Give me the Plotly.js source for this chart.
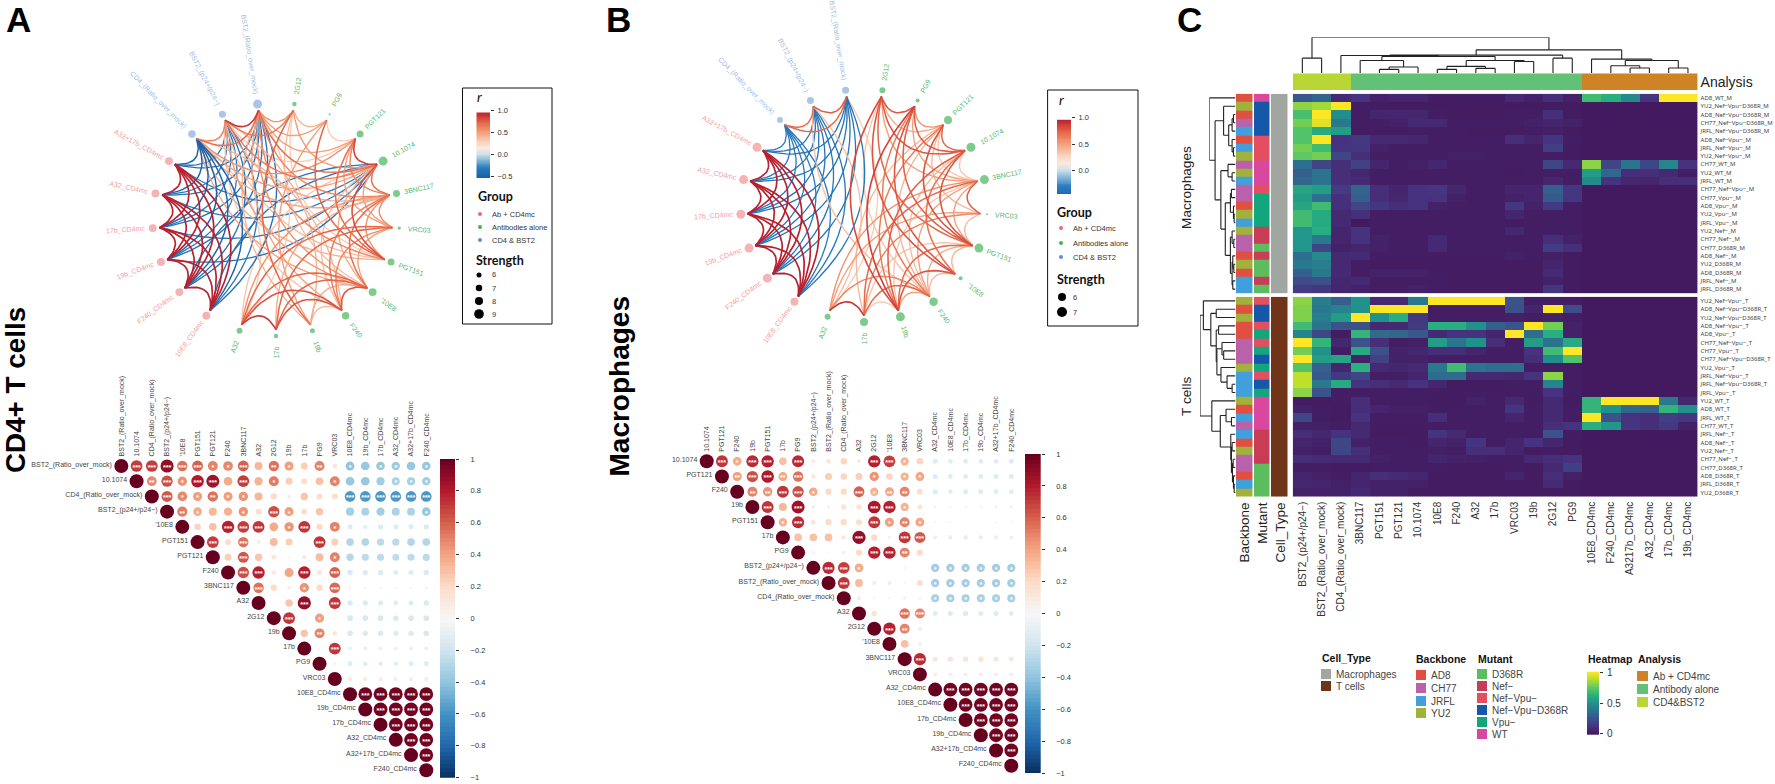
<!DOCTYPE html>
<html><head><meta charset="utf-8">
<script src="https://cdn.plot.ly/plotly-3.0.1.min.js"></script>
<style>html,body{margin:0;padding:0;background:#fff}#g{width:1775px;height:784px}</style>
</head><body><div id="g"></div>
<script>
// ---------- DATA ----------
const netNodes=["2G12","PG9","PGT121","10.1074","3BNC117","VRC03","PGT151","'10E8","F240","19b","17b","A32","10E8_CD4mc","F240_CD4mc","19b_CD4mc","17b_CD4mc","A32_CD4mc","A32+17b_CD4mc","CD4_(Ratio_over_mock)","BST2_(p24+/p24−)","BST2_(Ratio_over_mock)"];
const netGroups=[1,1,1,1,1,1,1,1,1,1,1,1,0,0,0,0,0,0,2,2,2];
const strengthA=[5.7,4.1,7.3,8.6,7.3,5,7.3,7.9,7.6,6,5.7,6.6,7.9,7.9,7.9,7.9,7.9,7.9,7.6,7.3,8.6];
const strengthB=[5,4,6,6.5,6.5,3,6.5,4,6.25,6.5,6,5,6,6.5,6.5,6.5,6.5,6.5,5,5.5,5.5];

const corrLabelsA=["BST2_(Ratio_over_mock)","10.1074","CD4_(Ratio_over_mock)","BST2_(p24+/p24−)","'10E8","PGT151","PGT121","F240","3BNC117","A32","2G12","19b","17b","PG9","VRC03","10E8_CD4mc","19b_CD4mc","17b_CD4mc","A32_CD4mc","A32+17b_CD4mc","F240_CD4mc"];
const corrRowsA=[
[.7,.7,.88,.55,.6,.5,.48,.6,.33,.55,.42,.25,.5,.12,-.4,-.38,-.38,-.36,-.38,-.38],
[.48,.65,.45,.8,.85,.38,.7,.35,.52,.25,.18,.3,.5,-.38,-.38,-.35,-.32,-.34,-.35],
[.62,.48,.42,.55,.42,.45,.33,.2,.08,.28,.18,.18,-.58,-.58,-.58,-.58,-.58,-.58],
[.52,.38,.33,.36,.45,.18,.65,.42,.18,.28,.02,-.34,-.32,-.35,-.32,-.32,-.38],
[.22,.3,.78,.7,.72,.38,.45,.72,.2,.5,-.13,-.1,-.13,-.13,-.13,-.15],
[.7,.18,.55,.08,.32,.25,.01,.72,.25,-.3,-.3,-.27,-.27,-.3,-.3],
[.25,.62,.28,.12,.03,.1,.32,.5,-.28,-.26,-.26,-.25,-.26,-.27],
[.65,.78,.1,.4,.78,.13,.6,-.15,-.14,-.14,-.12,-.13,-.15],
[.55,.2,.07,.45,.2,.58,-.03,-.02,-.03,-.03,-.02,-.04],
[.01,.28,.88,.01,.72,-.15,-.14,-.13,-.12,-.13,-.15],
[.72,.03,.42,.02,-.16,-.16,-.16,-.15,-.16,-.17],
[.28,.5,.12,-.16,-.15,-.15,-.13,-.15,-.17],
[-.02,.72,-.08,-.08,-.08,-.07,-.08,-.08],
[-.04,-.12,-.11,-.11,-.11,-.12,-.12],
[.09,.09,.09,.08,.09,.08],
[.97,.97,.97,.97,.97],[.97,.97,.97,.97],[.97,.97,.97],[.97,.97],[.97],[]];
const corrStarsA=["33333113021020101101","2313303010001000111","311211000000333333","21001031000000001","0033301301000000","303000030000000","03000001000000","3300303000000","300103000000","00303000000","3010000000","020000000","03000000","0000000","000000","33333","3333","333","33","3",""];

const corrLabelsB=["10.1074","PGT121","F240","19b","PGT151","17b","PG9","BST2_(p24+/p24−)","BST2_(Ratio_over_mock)","CD4_(Ratio_over_mock)","A32","2G12","'10E8","3BNC117","VRC03","A32_CD4mc","10E8_CD4mc","17b_CD4mc","19b_CD4mc","A32+17b_CD4mc","F240_CD4mc"];
const corrRowsB=[
[.72,.38,.75,.78,.3,.75,.08,.12,.22,.08,.78,.7,.35,.22,-.13,-.12,-.12,-.12,-.12,-.13],
[.42,.65,.8,.4,.55,.1,.25,.22,.25,.45,.22,.35,.4,-.13,-.12,-.12,-.12,-.13,-.13],
[.5,.45,.72,.65,.38,.2,.2,.6,.35,.4,.5,.18,-.13,-.11,-.13,-.13,-.12,-.12],
[.72,.33,.85,.08,.06,.15,.15,.82,.78,.35,.13,-.04,-.03,-.03,-.03,-.04,-.05],
[.36,.75,.12,.2,.2,.18,.72,.42,.5,.4,-.02,-.02,-.01,-.01,-.02,-.02],
[.3,.3,.3,.1,.88,.2,.05,.72,.62,-.08,-.09,-.1,-.1,-.09,-.08],
[.05,.02,.07,.2,.78,.78,.5,.2,-.01,-.01,-.01,-.01,-.01,-.01],
[.75,.7,.38,.01,.01,.03,.01,-.35,-.35,-.35,-.35,-.35,-.35],
[.72,.32,-.08,-.08,.02,.18,-.35,-.35,-.35,-.35,-.35,-.35],
[.08,-.03,.03,-.05,-.04,-.33,-.33,-.33,-.33,-.33,-.33],
[.15,0,.55,.5,-.12,-.13,-.14,-.13,-.13,-.12],
[.78,.5,.08,-.01,-.01,-.01,-.01,-.01,-.01],
[.3,-.07,-.01,-.01,-.01,-.01,-.01,-.01],
[.75,.13,.14,.14,.15,.13,.12],
[.08,.08,.08,.08,.08,.08],
[.97,.97,.97,.97,.97],[.97,.97,.97,.97],[.97,.97,.97],[.97,.97],[.97],[]];
const corrStarsB=["31330300003310000000","2332300001011000000","223310031220000000","30300003310000000","1300003121000000","000030033000000","00003320000000","3310000111111","300000111111","00000111111","0033000000","320000000","00000000","3000000","000000","33333","3333","333","33","3",""];

const heatCols=["BST2_(p24+/p24−)","BST2_(Ratio_over_mock)","CD4_(Ratio_over_mock)","3BNC117","PGT151","PGT121","10.1074","10E8","F240","A32","17b","VRC03","19b","2G12","PG9","10E8_CD4mc","F240_CD4mc","A3217b_CD4mc","A32_CD4mc","17b_CD4mc","19b_CD4mc"];
const analysisCols=[2,2,2,1,1,1,1,1,1,1,1,1,1,1,1,0,0,0,0,0,0];
const Z6=[.01,.01,.01,.01,.01,.01];
const rowsM=["AD8_WT_M","YU2_Nef−Vpu−D368R_M","AD8_Nef−Vpu−D368R_M","CH77_Nef−Vpu−D368R_M","JRFL_Nef−Vpu−D368R_M","AD8_Nef−Vpu−_M","JRFL_Nef−Vpu−_M","YU2_Nef−Vpu−_M","CH77_WT_M","YU2_WT_M","JRFL_WT_M","CH77_Nef−Vpu−_M","CH77_Vpu−_M","AD8_Vpu−_M","YU2_Vpu−_M","JRFL_Vpu−_M","YU2_Nef−_M","CH77_Nef−_M","CH77_D368R_M","AD8_Nef−_M","YU2_D368R_M","AD8_D368R_M","JRFL_Nef−_M","JRFL_D368R_M"];
const heatM=[
[.27,.33,.09,.12,.05,.06,.06,.03,.03,.03,.03,.08,.05,.1,.05,.68,.62,.47,.13,1,1],
[.82,.85,1,.03,.02,.02,.02,.02,.02,.02,.02,.02,.02,.02,.02,...Z6],
[.7,1,.48,.03,.06,.06,.07,.03,.02,.02,.02,.03,.03,.1,.02,...Z6],
[.78,.95,.4,.03,.03,.05,.08,.08,.03,.03,.03,.03,.05,.06,.05,...Z6],
[.72,.6,.55,.02,.02,.02,.03,.03,.03,.02,.02,.02,.03,.04,.02,...Z6],
[.72,1,.12,.15,.08,.08,.07,.03,.03,.03,.03,.1,.06,.13,.03,...Z6],
[.78,.68,.13,.14,.05,.03,.03,.03,.03,.03,.03,.03,.03,.17,.02,...Z6],
[.75,.78,.2,.1,.03,.03,.03,.03,.04,.04,.03,.03,.03,.03,.02,...Z6],
[.36,.2,.1,.18,.06,.03,.04,.07,.03,.03,.03,.03,.03,.2,.08,.82,.2,.38,.2,.45,.12],
[.3,.38,.1,.07,.03,.03,.03,.03,.03,.03,.03,.02,.03,.03,.03,.55,.33,.1,.1,.08,.03],
[.33,.38,.1,.09,.03,.03,.03,.03,.03,.03,.03,.03,.03,.07,.03,.47,.12,.07,.06,.1,.1],
[.58,.55,.16,.32,.1,.06,.12,.14,.07,.03,.03,.06,.06,.3,.14,...Z6],
[.55,.36,.11,.3,.1,.07,.12,.12,.05,.03,.03,.05,.06,.28,.14,...Z6],
[.58,.68,.11,.2,.14,.1,.12,.05,.03,.03,.03,.14,.05,.15,.03,...Z6],
[.68,.6,.08,.1,.03,.03,.03,.03,.03,.03,.03,.06,.03,.03,.03,...Z6],
[.68,.6,.08,.01,.03,.03,.03,.03,.03,.03,.03,.02,.03,.03,.03,...Z6],
[.52,.62,.06,.12,.03,.03,.03,.03,.03,.03,.03,.07,.03,.03,.03,...Z6],
[.52,.4,.06,.12,.05,.03,.03,.08,.03,.03,.03,.03,.03,.1,.05,...Z6],
[.52,.2,.05,.06,.05,.03,.03,.08,.03,.03,.03,.03,.03,.16,.1,...Z6],
[.36,.47,.08,.08,.03,.03,.03,.03,.03,.03,.03,.05,.03,.04,.02,...Z6],
[.4,.42,.08,.03,.02,.02,.02,.02,.02,.02,.02,.02,.02,.06,.02,...Z6],
[.3,.4,.08,.03,.05,.05,.05,.03,.02,.02,.02,.02,.02,.08,.02,...Z6],
[.22,.24,.07,.08,.03,.03,.03,.03,.02,.02,.02,.02,.02,.05,.02,...Z6],
[.16,.14,.06,.05,.03,.03,.05,.03,.02,.02,.02,.02,.02,.14,.02,...Z6]];
const rowsT=["YU2_Nef−Vpu−_T","AD8_Nef−Vpu−D368R_T","YU2_Nef−Vpu−D368R_T","AD8_Nef−Vpu−_T","AD8_Vpu−_T","CH77_Nef−Vpu−_T","CH77_Vpu−_T","CH77_Nef−Vpu−D368R_T","YU2_Vpu−_T","JRFL_Nef−Vpu−_T","JRFL_Nef−Vpu−D368R_T","JRFL_Vpu−_T","YU2_WT_T","AD8_WT_T","JRFL_WT_T","CH77_WT_T","JRFL_Nef−_T","AD8_Nef−_T","YU2_Nef−_T","CH77_Nef−_T","CH77_D368R_T","AD8_D368R_T","JRFL_D368R_T","YU2_D368R_T"];
const heatT=[
[.82,.42,.3,.5,.08,.08,.4,1,1,1,1,.25,.03,.03,.03,...Z6],
[.8,.4,.44,.5,1,1,1,.03,.03,.03,.03,.24,.06,1,.23,...Z6],
[.8,.42,.55,1,.5,.62,.14,.03,.03,.03,.03,.04,.03,.05,.03,...Z6],
[.68,.38,.25,.24,.08,.08,.15,.62,.62,.5,.3,.26,1,.78,.05,...Z6],
[.45,.2,.02,.65,.34,.33,.27,.08,.12,.12,.06,1,.35,.62,.05,...Z6],
[1,.65,.07,.25,.1,.03,.04,.55,.38,.5,.1,.03,.55,.38,.6,...Z6],
[.78,.5,.02,.6,.24,.05,.07,.1,.1,.06,.03,.03,.12,.68,1,...Z6],
[1,.55,.58,.05,.18,.05,.05,.03,.03,.03,.03,.03,.1,.48,.72,...Z6],
[.72,.3,.06,.63,.08,.07,.08,.4,.68,.38,.35,.36,.03,.03,.03,...Z6],
[.9,.28,.15,.2,.03,.03,.06,.35,.35,.08,.08,.07,.12,.82,.03,...Z6],
[.9,.4,.6,.12,.1,.08,.12,.07,.02,.02,.02,.03,.03,.45,.03,...Z6],
[.82,.25,.03,.03,.03,.03,.03,.03,.03,.03,.03,.03,.03,.12,.03,...Z6],
[.02,.02,.03,.1,.03,.03,.03,.02,.02,.05,.03,.08,.02,.08,.02,.65,1,1,1,.4,.07],
[.05,.03,.02,.1,.06,.04,.04,.03,.03,.03,.03,.13,.03,.08,.03,.65,.5,.33,.3,.65,.5],
[.2,.03,.02,.12,.03,.03,.03,.1,.03,.03,.03,.06,.03,.08,.03,1,.25,.12,.1,.17,.14],
[.05,.04,.03,.08,.03,.03,.03,.03,.03,.03,.03,.03,.03,.1,.12,.62,.52,.14,.1,.15,.05],
[.1,.07,.12,.08,.02,.02,.02,.12,.08,.03,.03,.03,.03,.25,.03,...Z6],
[.06,.05,.2,.05,.03,.03,.02,.06,.05,.13,.03,.06,.12,.07,.02,...Z6],
[.05,.03,.2,.1,.03,.03,.03,.04,.03,.1,.1,.06,.02,.03,.02,...Z6],
[.1,.09,.08,.08,.05,.03,.03,.06,.05,.04,.03,.03,.08,.1,.12,...Z6],
[.03,.03,.02,.02,.03,.03,.03,.03,.02,.02,.02,.03,.02,.08,.17,...Z6],
[.06,.04,.03,.06,.1,.09,.07,.02,.02,.02,.02,.06,.02,.1,.04,...Z6],
[.07,.06,.04,.06,.05,.05,.04,.02,.02,.02,.02,.02,.02,.09,.02,...Z6],
[.04,.05,.05,.08,.05,.05,.02,.02,.02,.02,.02,.02,.02,.02,.02,...Z6]];

// dendrograms: [height, childA, childB], integers are leaves
const treeTop=[108,[45,0,1],[70,[54,[53,2,[50,[38,3,[18,[11,4,5],6]],[38,[20,[11,7,8],[14,9,10]],[35,11,12]]]],[45,13,14]],[42,15,[38,[22,16,[15,17,18]],[15,19,20]]]]];
const treeM=[77,0,[60,[35,1,[20,[10,[6,2,3],4],[10,5,[6,6,7]]]],[43,[22,8,[10,9,10]],[30,[15,[12,11,12],[6,13,[4,14,15]]],[15,[10,16,[5,17,18]],[10,[8,19,[5,20,21]],[8,22,23]]]]]]];
const treeT=[105,[95,0,[73,[57,1,2],[57,[50,3,4],[55,[40,5,[35,6,7]],[43,8,[25,9,[10,10,11]]]]]]],[70,12,[45,[28,13,[12,14,15]],[14,16,[12,[10,17,18],[9,[7,19,20],[6,21,[4,22,23]]]]]]]];

const backboneNames=["AD8","CH77","JRFL","YU2"];
const mutantNames=["D368R","Nef−","Nef−Vpu−","Nef−Vpu−D368R","Vpu−","WT"];
const cellNames=["Macrophages","T cells"];
const analysisNames=["Ab + CD4mc","Antibody alone","CD4&BST2"];

// ---------- STYLE ----------
const W=1775,H=784,FONT="Liberation Sans",LEG="Lato",SMALL="Noto Sans";
const backboneColors=["#e04f3f","#b962aa","#41a0dc","#a2b13c"];
const mutantColors=["#5cbd5f","#c93c55","#e24f60","#1558aa","#12a67d","#d9489f"];
const cellColors=["#a1a7a0","#703518"];
const analysisColors=["#cf8327","#63c177","#b9d636"];
const corrScale=[[0,"#053061"],[.1,"#2166ac"],[.2,"#4393c3"],[.3,"#92c5de"],[.4,"#d1e5f0"],[.5,"#f7f7f7"],[.6,"#fddbc7"],[.7,"#f4a582"],[.8,"#d6604d"],[.9,"#b2182b"],[1,"#67001f"]];
const netStops=[[-.5,"#1a62ab"],[-.3,"#2a7bbd"],[-.1,"#8fbfde"],[0,"#cddfea"],[.15,"#fbe9e0"],[.3,"#f9d0bb"],[.5,"#f3a07c"],[.7,"#e8704e"],[.85,"#d1403a"],[1,"#b2182b"]];
const netScale=netStops.map(s=>[(s[0]+.5)/1.5,s[1]]);
const heatScale=[[0,"#43175c"],[.12,"#46327e"],[.25,"#3b528b"],[.37,"#2c728e"],[.5,"#21918c"],[.62,"#28ae80"],[.75,"#5ec962"],[.87,"#addc30"],[1,"#fde725"]];
const nodeColors=["#f6b3b3","#7dcc8e","#aac5ea"],labelColors=["#f79b9d","#54b96b","#a0bbe6"];

function hex2(c){return [1,3,5].map(i=>parseInt(c.substr(i,2),16));}
function netColor(r){r=Math.max(-.5,Math.min(1,r));for(let i=1;i<netStops.length;i++){if(r<=netStops[i][0]){const a=netStops[i-1],b=netStops[i],t=(r-a[0])/(b[0]-a[0]),A=hex2(a[1]),B=hex2(b[1]);return "rgb("+A.map((v,k)=>Math.round(v+(B[k]-v)*t)).join(",")+")";}}return netStops[netStops.length-1][1];}

const layout={width:W,height:H,margin:{l:0,r:0,t:0,b:0,pad:0},paper_bgcolor:"#fff",plot_bgcolor:"rgba(0,0,0,0)",showlegend:false,font:{family:FONT,color:"#222"},annotations:[],shapes:[],hovermode:false};
const data=[];
let axN=0;
function axes(x0,y0,x1,y1,xo,yo){axN++;const s=axN===1?"":String(axN);
 layout["xaxis"+s]=Object.assign({domain:[x0/W,x1/W],anchor:"y"+s,showgrid:false,zeroline:false,showticklabels:false,ticks:"",showline:false,fixedrange:true},xo||{});
 layout["yaxis"+s]=Object.assign({domain:[1-y1/H,1-y0/H],anchor:"x"+s,showgrid:false,zeroline:false,showticklabels:false,ticks:"",showline:false,fixedrange:true},yo||{});
 return {xaxis:"x"+s,yaxis:"y"+s};}
function txt(x,y,text,o){o=o||{};layout.annotations.push({xref:"paper",yref:"paper",x:x/W,y:1-y/H,text,showarrow:false,xanchor:o.xa||"left",yanchor:"middle",textangle:o.rot||0,font:{family:o.family||FONT,size:o.size||9,color:o.color||"#222",weight:o.weight||"normal"},borderpad:0});}
function rect(x0,y0,x1,y1,fill,line){layout.shapes.push({type:"rect",xref:"paper",yref:"paper",x0:x0/W,x1:x1/W,y0:1-y0/H,y1:1-y1/H,fillcolor:fill||"rgba(0,0,0,0)",line:{color:line||"rgba(0,0,0,0)",width:line?1:0}});}
function dot(x,y,d,fill){layout.shapes.push({type:"circle",xref:"paper",yref:"paper",x0:(x-d/2)/W,x1:(x+d/2)/W,y0:1-(y-d/2)/H,y1:1-(y+d/2)/H,fillcolor:fill,line:{width:0}});}

function ramp(lo,hi,n){const a=[];for(let i=0;i<n;i++)a.push(lo+(hi-lo)*i/(n-1));return a;}
function rampBar(x0,y0,x1,y1,yrange,lo,hi,scale,zmin,zmax,tv,tt,fs,standoff){
 const a=axes(x0,y0,x1,y1,{range:[0,1]},{range:yrange,side:"right",showticklabels:true,ticks:"outside",ticklen:3,tickwidth:1,tickcolor:"#333",tickvals:tv,ticktext:tt,tickfont:{size:fs,family:FONT,color:"#333"},ticklabelstandoff:standoff});
 const ys=ramp(lo,hi,80);
 data.push(Object.assign({type:"heatmap",x:[0,1],y:ys,z:ys.map(v=>[v,v]),colorscale:scale,zmin,zmax,showscale:false,hoverinfo:"skip"},a));}

// ---------- NETWORK ----------
function network(cx,cy,Rx,Ry,labels,rows,strength,sizeFn){
 const span=1.7,a=axes(cx-span*Rx,cy-span*Ry,cx+span*Rx,cy+span*Ry,{range:[-span,span]},{range:[-span,span]});
 const step=360/netNodes.length,pos=netNodes.map((_,i)=>{const t=(step/2+i*step)*Math.PI/180;return [Math.sin(t),Math.cos(t)];});
 const idx=n=>netNodes.indexOf(n),edges=[];
 rows.forEach((row,i)=>row.forEach((r,k)=>{if(Math.abs(r)>.3)edges.push([idx(labels[i]),idx(labels[i+k+1]),r]);}));
 edges.sort((p,q)=>Math.abs(p[2])-Math.abs(q[2]));
 edges.forEach(([p,q,r])=>{
  const f=.945,P=[pos[p][0]*f,pos[p][1]*f],Q=[pos[q][0]*f,pos[q][1]*f];
  const mx=(P[0]+Q[0])/2,my=(P[1]+Q[1])/2,dx=Q[0]-P[0],dy=Q[1]-P[1],ch=Math.hypot(dx,dy);
  let nx=-dy/ch,ny=dx/ch;if(nx*mx+ny*my>0||(Math.abs(nx*mx+ny*my)<1e-6&&p>q)){nx=-nx;ny=-ny;}
  const k=(.75-.22*ch)*ch,C=[mx+nx*k,my+ny*k],xs=[],ys=[];
  for(let i=0;i<=18;i++){const t=i/18,u=1-t;xs.push(u*u*P[0]+2*u*t*C[0]+t*t*Q[0]);ys.push(u*u*P[1]+2*u*t*C[1]+t*t*Q[1]);}
  data.push(Object.assign({type:"scatter",mode:"lines",x:xs,y:ys,line:{color:netColor(r),width:1.1+.6*Math.abs(r),shape:"linear"},hoverinfo:"skip"},a));
 });
 data.push(Object.assign({type:"scatter",mode:"markers",x:pos.map(p=>p[0]),y:pos.map(p=>p[1]),cliponaxis:false,marker:{opacity:1,size:strength.map(sizeFn),color:netGroups.map(g=>nodeColors[g]),line:{width:0}},hoverinfo:"skip"},a));
 netNodes.forEach((n,i)=>{
  const px=pos[i][0]*Rx,py=pos[i][1]*Ry,l=Math.hypot(px,py),ux=px/l,uy=py/l,deg=Math.atan2(ux,uy)*180/Math.PI,th=(deg+360)%360;
  const w=n.length*3.55,off=11+w/2,rot=th<179.9?th-90:th+90;
  layout.annotations.push({xref:a.xaxis,yref:a.yaxis,x:(px+ux*off)/Rx,y:(py+uy*off)/Ry,text:n,showarrow:false,xanchor:"center",yanchor:"middle",textangle:rot,font:{family:FONT,size:7,color:labelColors[netGroups[i]]}});
 });
}
network(276,219.4,123.6,116.6,corrLabelsA,corrRowsA,strengthA,s=>1.55*s-4.3);
network(864,205.5,123.5,116.5,corrLabelsB,corrRowsB,strengthB,s=>2*s-4);

// ---------- NETWORK LEGENDS ----------
rect(462.5,88,552,324,null,"#111");
txt(476,97,"r",{size:14,family:LEG,color:"#111"});layout.annotations[layout.annotations.length-1].font.style="italic";
rampBar(476.5,109.4,490,178,[-.53,1.03],-.53,.95,netScale,-.5,1,[-.5,0,.5,1],["−0.5","0.0","0.5","1.0"],7.5,2);
txt(477,197,"Group",{size:12.5,family:LEG,weight:"bold",color:"#111"});
[[214,0],[227,1],[240,2]].forEach(([y,g])=>{dot(480,y,4,["#ee6a6c","#3fb64d","#5e91da"][g]);txt(491,y,["Ab + CD4mc","Antibodies alone","CD4 & BST2"][g],{size:7.5,color:"#333"});});
txt(475,260,"Strength",{size:12.5,family:LEG,weight:"bold",color:"#111"});
[[275,6],[288,7],[301,8],[314,9]].forEach(([y,s])=>{dot(479,y,1.55*s-4.3,"#000");txt(491,y,String(s),{size:7.5,color:"#333"});});

rect(1047.6,90,1138,326,null,"#111");
txt(1058,100,"r",{size:14,family:LEG,color:"#111"});layout.annotations[layout.annotations.length-1].font.style="italic";
rampBar(1057,116,1071,194,[-.44,1.03],-.44,.95,netScale,-.5,1,[0,.5,1],["0.0","0.5","1.0"],7.5,2);
txt(1056,213,"Group",{size:12.5,family:LEG,weight:"bold",color:"#111"});
[[228,0],[243,1],[257,2]].forEach(([y,g])=>{dot(1061,y,4,["#ee6a6c","#3fb64d","#5e91da"][g]);txt(1072,y,["Ab + CD4mc","Antibodies alone","CD4 & BST2"][g],{size:7.5,color:"#333"});});
txt(1056,279,"Strength",{size:12.5,family:LEG,weight:"bold",color:"#111"});
[[297,6],[312,7]].forEach(([y,s])=>{dot(1062,y,2*s-4,"#000");txt(1072,y,String(s),{size:7.5,color:"#333"});});

// ---------- CORRPLOTS ----------
function corrplot(x0,y0,x1,y1,labels,rows,stars){
 const n=labels.length,sp=(x1-x0)/n;
 const a=axes(x0-sp,y0,x1,y1,{range:[-1.5,n-.5],side:"top",showticklabels:true,tickmode:"array",tickvals:labels.map((_,i)=>i),ticktext:labels,tickangle:-90,tickfont:{size:7,family:FONT,color:"#444"},ticklabelstandoff:1},{range:[n-.5,-.5]});
 const xs=[],ys=[],vs=[],sx=[],sy=[],st=[];
 rows.forEach((row,i)=>{xs.push(i);ys.push(i);vs.push(1);row.forEach((r,k)=>{xs.push(i+k+1);ys.push(i);vs.push(r);const c=+stars[i][k];if(c){sx.push(i+k+1);sy.push(i+.14);st.push("*".repeat(c));}});});
 data.push(Object.assign({type:"scatter",mode:"markers",x:xs,y:ys,cliponaxis:false,marker:{opacity:1,size:vs.map(v=>14*Math.sqrt(Math.abs(v))),color:vs,colorscale:corrScale,cmin:-1,cmax:1,line:{width:0}},hoverinfo:"skip"},a));
 data.push(Object.assign({type:"scatter",mode:"text",x:sx,y:sy,text:st,cliponaxis:false,textposition:"middle center",textfont:{size:7,color:"#fff",family:FONT,weight:"bold"},hoverinfo:"skip"},a));
 data.push(Object.assign({type:"scatter",mode:"text",x:labels.map((_,i)=>i-.62),y:labels.map((_,i)=>i-.08),text:labels,cliponaxis:false,textposition:"middle left",textfont:{size:7,color:"#444",family:FONT},hoverinfo:"skip"},a));
}
const corrTicks=[1,.8,.6,.4,.2,0,-.2,-.4,-.6,-.8,-1],corrTickText=["1","0.8","0.6","0.4","0.2","0","−0.2","−0.4","−0.6","−0.8","−1"];
corrplot(113.7,458.4,433.9,777.9,corrLabelsA,corrRowsA,corrStarsA);
rampBar(440,459,455,777.7,[-1,1],-1,1,corrScale,-1,1,corrTicks,corrTickText,7.5,10);
corrplot(699.1,453.7,1018.9,773.3,corrLabelsB,corrRowsB,corrStarsB);
rampBar(1025,454,1040.7,773,[-1,1],-1,1,corrScale,-1,1,corrTicks,corrTickText,7.5,10);

// ---------- HEATMAP C ----------
const palette=[...backboneColors,...mutantColors,...cellColors];
const paletteScale=[];palette.forEach((c,i)=>{paletteScale.push([i/palette.length,c]);paletteScale.push([(i+1)/palette.length,c]);});
function annoRow(name,cell){const b=backboneNames.findIndex(k=>name.startsWith(k+"_"));
 const core=name.slice(backboneNames[b].length+1,-2),m=mutantNames.indexOf(core);return [b+.5,4+m+.5,10+cell+.5];}
const HX0=1292.7,HX1=1697.6;
function heatBlock(y0,y1,rows,z,cell,tree,dendroX0,bottom){
 const ny=rows.length;
 const xo=bottom?{showticklabels:true,tickmode:"array",tickvals:heatCols.map((_,i)=>i),ticktext:heatCols,tickangle:-90,side:"bottom",tickfont:{size:10,family:FONT,color:"#333"},ticklabelstandoff:2}:{};
 const a=axes(HX0,y0,HX1,y1,Object.assign({range:[-.5,20.5]},xo),{range:[ny-.5,-.5],side:"right",showticklabels:true,tickmode:"array",tickvals:rows.map((_,i)=>i),ticktext:rows,tickfont:{size:6,family:SMALL,color:"#444"},ticklabelstandoff:2});
 data.push(Object.assign({type:"heatmap",x:heatCols.map((_,i)=>i),y:rows.map((_,i)=>i),z,colorscale:heatScale,zmin:0,zmax:1,showscale:false,hoverinfo:"skip"},a));
 const bo=bottom?{showticklabels:true,tickmode:"array",tickvals:[0,1,2],ticktext:["Backbone","Mutant","Cell_Type"],tickangle:-90,side:"bottom",tickfont:{size:13.5,family:FONT,color:"#222"},ticklabelstandoff:2}:{};
 const b=axes(1236,y0,1289,y1,Object.assign({range:[-.5,2.5]},bo),{range:[ny-.5,-.5]});
 data.push(Object.assign({type:"heatmap",x:[0,1,2],y:rows.map((_,i)=>i),z:rows.map(r=>annoRow(r,cell)),colorscale:paletteScale,zmin:0,zmax:palette.length,xgap:1.5,showscale:false,hoverinfo:"skip"},b));
 const c=axes(dendroX0,y0,1235.5,y1,{range:[tree[0],0]},{range:[ny-.5,-.5]});
 const seg=drawTree(tree,true);
 data.push(Object.assign({type:"scatter",mode:"lines",x:seg.x,y:seg.y,line:{color:"#222",width:1.1},cliponaxis:false,hoverinfo:"skip"},c));
}
function drawTree(tree,horizontal){const X=[],Y=[];
 function add(h1,p1,h2,p2){if(horizontal){X.push(h1,h2,null);Y.push(p1,p2,null);}else{X.push(p1,p2,null);Y.push(h1,h2,null);}}
 function walk(t){if(typeof t==="number")return {p:t,h:0};const l=walk(t[1]),r=walk(t[2]),h=t[0];add(l.h,l.p,h,l.p);add(r.h,r.p,h,r.p);add(h,l.p,h,r.p);return {p:(l.p+r.p)/2,h};}
 walk(tree);return {x:X,y:Y};}
heatBlock(93.7,293.3,rowsM,heatM,0,treeM,1209.3,false);
heatBlock(296.7,496.7,rowsT,heatT,1,treeT,1200,true);
// analysis bar + top dendrogram
const anScale=[];analysisColors.forEach((c,i)=>{anScale.push([i/3,c]);anScale.push([(i+1)/3,c]);});
const an=axes(HX0,73.3,HX1,90,{range:[-.5,20.5]},{range:[-.5,.5],side:"right",showticklabels:true,tickmode:"array",tickvals:[0],ticktext:["Analysis"],tickfont:{size:14,family:FONT,color:"#222"},ticklabelstandoff:2});
data.push(Object.assign({type:"heatmap",x:heatCols.map((_,i)=>i),y:[0],z:[analysisCols.map(v=>v+.5)],colorscale:anScale,zmin:0,zmax:3,showscale:false,hoverinfo:"skip"},an));
const tp=axes(HX0,37.3,HX1,73,{range:[-.5,20.5]},{range:[0,108]});
const tseg=drawTree(treeTop,false);
data.push(Object.assign({type:"scatter",mode:"lines",x:tseg.x,y:tseg.y,line:{color:"#222",width:1.1},cliponaxis:false,hoverinfo:"skip"},tp));

// ---------- C LEGENDS ----------
txt(1321,658,"Cell_Type",{size:10.5,weight:"bold",color:"#111"});
cellNames.forEach((n,i)=>{const y=[674,686][i];rect(1321,y-5,1331,y+5,cellColors[i]);txt(1335,y,n,{size:10,color:"#444"});});
txt(1415,659,"Backbone",{size:10.5,weight:"bold",color:"#111"});
backboneNames.forEach((n,i)=>{const y=[675,688,701,713][i];rect(1416,y-5,1426,y+5,backboneColors[i]);txt(1430,y,n,{size:10,color:"#444"});});
txt(1477,659,"Mutant",{size:10.5,weight:"bold",color:"#111"});
mutantNames.forEach((n,i)=>{const y=[674,686,698,710,722,734][i];rect(1477,y-5,1487,y+5,mutantColors[i]);txt(1491,y,n,{size:10,color:"#444"});});
txt(1587,659,"Heatmap",{size:10.5,weight:"bold",color:"#111"});
rampBar(1587,669,1599,737,[-.05,1.05],0,1,heatScale,0,1,[0,.5,1],["0","0.5","1"],10,2);
txt(1637,659,"Analysis",{size:10.5,weight:"bold",color:"#111"});
analysisNames.forEach((n,i)=>{const y=[676,689,702][i];rect(1637,y-5,1648,y+5,analysisColors[i]);txt(1652,y,n,{size:10,color:"#444"});});

// ---------- PANEL TITLES ----------
txt(5,20,"A",{size:35,weight:"bold",color:"#000"});
txt(605,20,"B",{size:35,weight:"bold",color:"#000"});
txt(1176,20,"C",{size:35,weight:"bold",color:"#000"});
txt(15,390,"CD4+ T cells",{size:27.8,weight:"bold",color:"#000",rot:-90,xa:"center"});
txt(618.5,386,"Macrophages",{size:28,weight:"bold",color:"#000",rot:-90,xa:"center"});
txt(1186,188,"Macrophages",{size:13.7,color:"#222",rot:-90,xa:"center"});
txt(1186,397,"T cells",{size:13.7,color:"#222",rot:-90,xa:"center"});

Plotly.newPlot("g",data,layout,{staticPlot:true,displayModeBar:false});
</script></body></html>
